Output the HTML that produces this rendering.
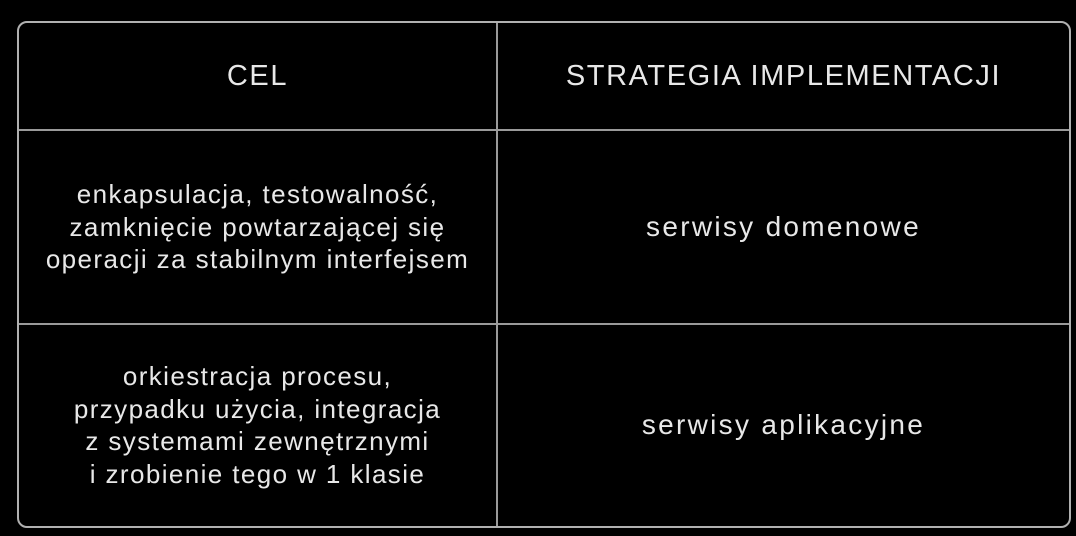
<!DOCTYPE html>
<html><head><meta charset="utf-8"><style>
html,body{margin:0;padding:0;background:#000;width:1076px;height:536px;overflow:hidden}
.t{position:absolute;left:17px;top:21px;width:1050px;height:503px;border:2px solid #b0b0b0;border-radius:10px;box-sizing:content-box}
.l{position:absolute;background:#9a9a9a}
.c{position:absolute;color:#e8e8e8;font-family:"Liberation Sans",sans-serif;text-align:center;display:flex;align-items:center;justify-content:center;white-space:nowrap}
.h{font-size:29px;letter-spacing:1.6px}
.b{font-size:26px;line-height:32.5px;letter-spacing:1.4px}
.s{font-size:28px;letter-spacing:2.3px}
</style></head><body>
<div class="t"></div>
<div class="l" style="left:19px;top:129px;width:1050px;height:2px"></div>
<div class="l" style="left:19px;top:323px;width:1050px;height:2px"></div>
<div class="l" style="left:496px;top:23px;width:2px;height:503px"></div>
<div class="c h" style="left:19px;top:23px;width:477px;height:106px">CEL</div>
<div class="c h" style="left:498px;top:23px;width:571px;height:106px">STRATEGIA IMPLEMENTACJI</div>
<div class="c b" style="left:19px;top:131px;width:477px;height:192px">enkapsulacja, testowalność,<br>zamknięcie powtarzającej się<br>operacji za stabilnym interfejsem</div>
<div class="c s" style="left:498px;top:131px;width:571px;height:192px">serwisy domenowe</div>
<div class="c b" style="left:19px;top:325px;width:477px;height:200px">orkiestracja procesu,<br>przypadku użycia, integracja<br>z systemami zewnętrznymi<br>i zrobienie tego w 1 klasie</div>
<div class="c s" style="left:498px;top:325px;width:571px;height:200px">serwisy aplikacyjne</div>
</body></html>
